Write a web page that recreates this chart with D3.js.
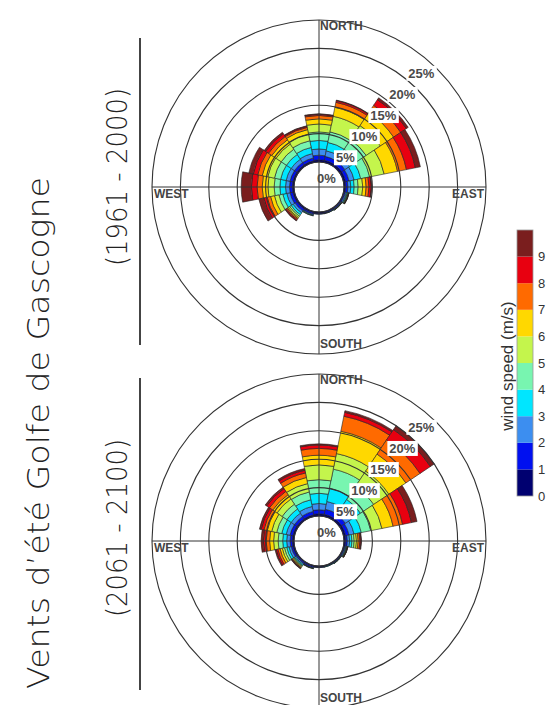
<!DOCTYPE html>
<html>
<head>
<meta charset="utf-8">
<script src="https://cdn.jsdelivr.net/npm/d3@7/dist/d3.min.js"></script>
<style>
  body { margin: 0; background: #fff; }
</style>
</head>
<body>
<div id="chart"></div>
<script>
// directions (16 sectors, clockwise from north)
const directions = ["N", "NNE", "NE", "ENE", "E", "ESE", "SE", "SSE", "S", "SSW", "SW", "WSW", "W", "WNW", "NW", "NNW"];
// wind speed classes (m/s)
const speedBins = ["0-1", "1-2", "2-3", "3-4", "4-5", "5-6", "6-7", "7-8", "8-9", "9+"];
const speedTicks = [0, 1, 2, 3, 4, 5, 6, 7, 8, 9];
const speedColors = ["#000070", "#0010f0", "#3c8ef0", "#00e6ff", "#78f5b0", "#c4f54c", "#ffd800", "#ff6a00", "#e80010", "#7a1e1e"];
const ringValues = [0, 5, 10, 15, 20, 25];
const compassLabels = ["NORTH", "EAST", "SOUTH", "WEST"];
const periodLabels = ["(1961 - 2000)", "(2061 - 2100)"];
const titleText = "Vents d\u2019été Golfe de Gascogne";

// frequency (%) per direction and speed class, 1961 - 2000
const rose1961 = [
  [0.4, 0.8, 1.1, 1.5, 1.5, 1.4, 0.9, 0.6, 0.2, 0.1],
  [0.4, 0.7, 1.0, 1.5, 1.9, 2.8, 1.6, 0.9, 0.3, 0.1],
  [0.4, 0.7, 1.0, 1.5, 2.0, 3.0, 2.8, 1.5, 1.2, 0.4],
  [0.4, 0.6, 0.9, 1.2, 1.6, 2.6, 2.4, 1.6, 1.6, 0.9],
  [0.3, 0.4, 0.5, 0.6, 0.7, 0.8, 0.6, 0.5, 0.4, 0.1],
  [0.15, 0.2, 0.2, 0.15, 0.1, 0.1, 0.05, 0.03, 0.02, 0],
  [0.15, 0.15, 0.1, 0.05, 0.03, 0.02, 0, 0, 0, 0],
  [0.15, 0.15, 0.08, 0.02, 0, 0, 0, 0, 0, 0],
  [0.2, 0.15, 0.05, 0, 0, 0, 0, 0, 0, 0],
  [0.25, 0.25, 0.15, 0.1, 0.05, 0, 0, 0, 0, 0],
  [0.3, 0.4, 0.4, 0.4, 0.3, 0.3, 0.2, 0.2, 0.2, 0.1],
  [0.3, 0.5, 0.6, 0.7, 0.7, 0.8, 0.7, 0.6, 0.6, 0.9],
  [0.3, 0.5, 0.7, 1.0, 1.0, 1.1, 1.0, 0.9, 1.0, 1.8],
  [0.3, 0.5, 0.7, 1.0, 1.1, 1.2, 1.0, 0.8, 0.8, 0.8],
  [0.3, 0.5, 0.7, 1.0, 1.1, 1.1, 0.9, 0.7, 0.6, 0.3],
  [0.3, 0.5, 0.8, 1.1, 1.2, 1.2, 0.8, 0.4, 0.2, 0.1]
];

// frequency (%) per direction and speed class, 2061 - 2100
const rose2061 = [
  [0.4, 0.7, 1.1, 1.8, 2.4, 2.6, 1.7, 1.2, 0.6, 0.2],
  [0.4, 0.9, 1.4, 2.4, 3.4, 2.8, 4.0, 2.7, 0.7, 0.3],
  [0.4, 0.8, 1.2, 2.0, 2.8, 3.2, 3.6, 3.0, 2.2, 0.8],
  [0.4, 0.6, 0.9, 1.3, 1.7, 2.0, 2.0, 1.7, 1.6, 1.0],
  [0.3, 0.3, 0.4, 0.4, 0.4, 0.4, 0.3, 0.3, 0.2, 0.1],
  [0.15, 0.15, 0.15, 0.1, 0.1, 0.05, 0.05, 0.03, 0.02, 0],
  [0.15, 0.1, 0.08, 0.04, 0.03, 0, 0, 0, 0, 0],
  [0.12, 0.1, 0.05, 0.03, 0, 0, 0, 0, 0, 0],
  [0.15, 0.1, 0.05, 0, 0, 0, 0, 0, 0, 0],
  [0.2, 0.2, 0.1, 0.05, 0.05, 0, 0, 0, 0, 0],
  [0.2, 0.2, 0.2, 0.2, 0.15, 0.15, 0.15, 0.1, 0.1, 0.05],
  [0.3, 0.3, 0.4, 0.4, 0.4, 0.4, 0.4, 0.4, 0.3, 0.2],
  [0.3, 0.4, 0.6, 0.7, 0.8, 0.8, 0.7, 0.6, 0.5, 0.4],
  [0.3, 0.5, 0.7, 0.8, 0.9, 0.9, 0.8, 0.6, 0.5, 0.3],
  [0.3, 0.5, 0.7, 0.9, 1.0, 1.1, 0.9, 0.7, 0.6, 0.3],
  [0.3, 0.6, 0.9, 1.2, 1.4, 1.5, 1.1, 0.8, 0.5, 0.3]
];

const W = 547, H = 705;
const svg = d3.select("#chart").append("svg")
  .attr("width", W)
  .attr("height", H)
  .style("font-family", "'Liberation Sans', Arial, sans-serif");

// geometry
const R0 = 25, R = 167;
const y = d3.scaleLinear().domain([0, 25]).range([R0, R]);
const step = 2 * Math.PI / directions.length;
const x = d3.scaleBand()
  .domain(directions)
  .range([-step / 2, 2 * Math.PI - step / 2])
  .paddingInner(0);

const stack = d3.stack().keys(speedBins);

function drawRose(cx, cy, values) {
  const g = svg.append("g").attr("transform", `translate(${cx},${cy})`);

  const table = directions.map((dir, i) => {
    const row = {dir: dir};
    speedBins.forEach((b, j) => row[b] = values[i][j]);
    return row;
  });
  const series = stack(table);

  const arc = d3.arc()
    .innerRadius(d => y(d[0]))
    .outerRadius(d => y(d[1]))
    .startAngle(d => x(d.data.dir))
    .endAngle(d => x(d.data.dir) + x.bandwidth());

  g.selectAll("g.layer")
    .data(series)
    .enter().append("g")
    .attr("class", "layer")
    .attr("fill", (d, i) => speedColors[i])
    .selectAll("path")
    .data(d => d.filter(s => s[1] - s[0] > 0))
    .enter().append("path")
    .attr("d", arc)
    .attr("stroke", "#222")
    .attr("stroke-width", 0.6);

  // grid circles
  g.selectAll("circle.ring")
    .data(ringValues)
    .enter().append("circle")
    .attr("class", "ring")
    .attr("r", d => y(d))
    .attr("fill", "none")
    .attr("stroke", "#333")
    .attr("stroke-width", 1.1);

  // cross lines
  g.append("line").attr("x1", -R).attr("x2", R).attr("y1", 0).attr("y2", 0)
    .attr("stroke", "#333").attr("stroke-width", 1);
  g.append("line").attr("x1", 0).attr("x2", 0).attr("y1", -R).attr("y2", R)
    .attr("stroke", "#333").attr("stroke-width", 1);

  // ring labels
  const labAngle = 42 * Math.PI / 180;
  ringValues.forEach(v => {
    const rr = y(v) - 14;
    const lx = rr * Math.sin(labAngle), ly = -rr * Math.cos(labAngle);
    const lab = g.append("g").attr("transform", `translate(${lx},${ly})`);
    const t = lab.append("text")
      .attr("text-anchor", "middle")
      .attr("dy", "0.35em")
      .attr("font-size", 13)
      .attr("font-weight", "bold")
      .attr("fill", "#4a4a4a")
      .text(v + "%");
    if (v > 0) {
      const bb = t.node().getBBox();
      lab.insert("rect", "text")
        .attr("x", bb.x - 2).attr("y", bb.y)
        .attr("width", bb.width + 4).attr("height", bb.height)
        .attr("fill", "#fff");
    }
  });

  // compass labels
  const cl = g.append("g")
    .attr("font-size", 12)
    .attr("font-weight", "bold")
    .attr("fill", "#444");
  cl.append("text").attr("x", 1).attr("y", -R + 10).text(compassLabels[0]);
  cl.append("text").attr("x", R - 2).attr("y", 11).attr("text-anchor", "end").text(compassLabels[1]);
  cl.append("text").attr("x", 1).attr("y", R - 6).text(compassLabels[2]);
  cl.append("text").attr("x", -R + 2).attr("y", 11).text(compassLabels[3]);
}

drawRose(319, 187, rose1961);
drawRose(319, 541, rose2061);

// colour bar
const cbX = 517, cbW = 16;
const cb = d3.scaleLinear().domain([0, 10]).range([496, 230]);
svg.append("g").selectAll("rect")
  .data(speedColors)
  .enter().append("rect")
  .attr("x", cbX)
  .attr("y", (d, i) => cb(i + 1))
  .attr("width", cbW)
  .attr("height", (d, i) => cb(i) - cb(i + 1))
  .attr("fill", d => d);
svg.append("rect")
  .attr("x", cbX).attr("y", cb(10))
  .attr("width", cbW).attr("height", cb(0) - cb(10))
  .attr("fill", "none").attr("stroke", "#999").attr("stroke-width", 0.8);

const cbAxis = d3.axisRight(cb).tickValues(speedTicks).tickSize(0).tickPadding(5);
svg.append("g")
  .attr("transform", `translate(${cbX + cbW},0)`)
  .call(cbAxis)
  .call(g => g.select(".domain").remove())
  .selectAll("text")
  .attr("font-size", 13)
  .attr("fill", "#333")
  .attr("font-family", "'Liberation Sans', Arial, sans-serif");

svg.append("text")
  .attr("transform", "translate(513,366) rotate(-90)")
  .attr("text-anchor", "middle")
  .attr("font-size", 17)
  .attr("fill", "#333")
  .text("wind speed (m/s)");

// left titles
const leftFont = "'DejaVu Sans', sans-serif";
svg.append("text")
  .attr("transform", "translate(49,433) rotate(-90)")
  .attr("text-anchor", "middle")
  .attr("font-family", leftFont)
  .attr("font-weight", 200)
  .attr("font-size", 31)
  .attr("textLength", 512)
  .attr("lengthAdjust", "spacingAndGlyphs")
  .attr("fill", "#222")
  .text(titleText);

[177, 528].forEach((cy, i) => {
  svg.append("text")
    .attr("transform", `translate(127,${cy}) rotate(-90)`)
    .attr("text-anchor", "middle")
    .attr("font-family", leftFont)
    .attr("font-weight", 200)
    .attr("font-size", 29)
    .attr("textLength", 178)
    .attr("lengthAdjust", "spacingAndGlyphs")
    .attr("fill", "#222")
    .text(periodLabels[i]);
});

svg.append("line").attr("x1", 140).attr("x2", 140).attr("y1", 38).attr("y2", 345)
  .attr("stroke", "#444").attr("stroke-width", 2);
svg.append("line").attr("x1", 140).attr("x2", 140).attr("y1", 378).attr("y2", 690)
  .attr("stroke", "#444").attr("stroke-width", 2);
</script>
</body>
</html>
